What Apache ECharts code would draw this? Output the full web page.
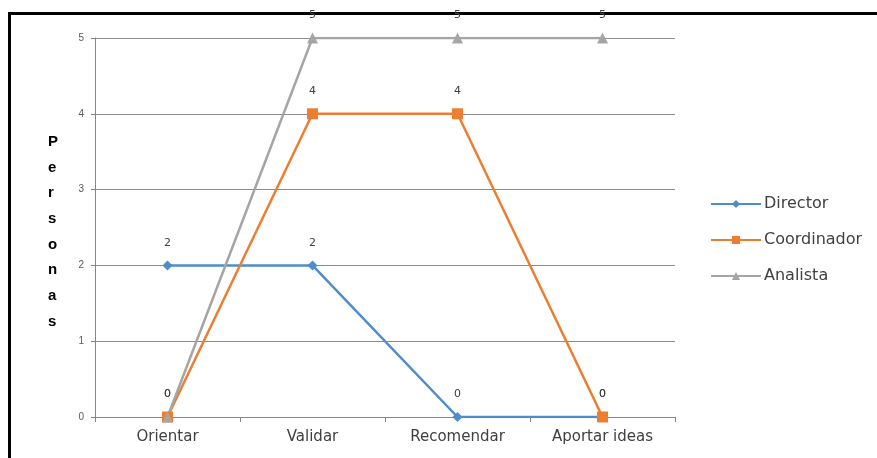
<!DOCTYPE html>
<html>
<head>
<meta charset="utf-8">
<script src="https://cdn.jsdelivr.net/npm/echarts@6/dist/echarts.min.js"></script>
<style>
html,body{margin:0;padding:0;background:#fff;}
#frame{position:absolute;left:8px;top:12px;width:880px;height:460px;border-left:3px solid #000;border-top:3px solid #000;}
#chart{position:absolute;left:0;top:0;width:877px;height:458px;}
</style>
</head>
<body>
<div id="frame"></div>
<div id="chart"></div>
<script>
const categories = ['Orientar', 'Validar', 'Recomendar', 'Aportar ideas'];
const director = [2, 2, 0, 0];
const coordinador = [0, 4, 4, 0];
const analista = [0, 5, 5, 5];
const yTicks = [0, 1, 2, 3, 4, 5];
const seriesNames = ['Director', 'Coordinador', 'Analista'];
const yAxisTitle = 'Personas';

const chart = echarts.init(document.getElementById('chart'), null, {renderer: 'canvas'});
const lbl = {show: true, position: 'top', distance: 12, fontSize: 11, color: '#404040', fontFamily: 'DejaVu Sans'};
function mk(name, data, color, symbol, size) {
  return {
    name: name, type: 'line', data: data, symbol: symbol, symbolSize: size,
    lineStyle: {color: color, width: 2.5}, itemStyle: {color: color},
    label: lbl, emphasis: {disabled: true}
  };
}
chart.setOption({
  animation: false,
  backgroundColor: 'transparent',
  grid: {left: 95, right: 202, top: 38, bottom: 41},
  legend: {
    orient: 'vertical', left: 710, top: 196, padding: 0, itemGap: 20, itemWidth: 50, itemHeight: 10,
    textStyle: {fontSize: 16, color: '#404040', fontFamily: 'DejaVu Sans', padding: [0, 0, 0, -2]},
    data: seriesNames
  },
  xAxis: {
    type: 'category', data: categories, boundaryGap: true,
    axisLine: {lineStyle: {color: '#868686', width: 1}},
    axisTick: {show: true, length: 5, lineStyle: {color: '#868686'}},
    axisLabel: {fontSize: 15, color: '#404040', margin: 13, fontFamily: 'DejaVu Sans'}
  },
  yAxis: {
    type: 'value', min: 0, max: 5, interval: 1,
    axisLine: {show: true, lineStyle: {color: '#868686'}},
    axisTick: {show: true, length: 4, lineStyle: {color: '#868686'}},
    axisLabel: {fontSize: 10, color: '#595959', margin: 11, fontFamily: 'Liberation Sans',
      formatter: v => yTicks.includes(v) ? String(v) : ''},
    splitLine: {lineStyle: {color: '#8c8c8c', width: 1}}
  },
  graphic: [{
    type: 'text', left: 48, top: 129,
    style: {text: yAxisTitle.split('').join('\n'), fontSize: 15, fontWeight: 'bold', lineHeight: 25.7,
      fill: '#000', fontFamily: 'Liberation Sans', align: 'center'}
  }],
  series: [
    mk(seriesNames[0], director, '#4f8ccb', 'diamond', 10),
    mk(seriesNames[1], coordinador, '#ed7d31', 'rect', 11),
    mk(seriesNames[2], analista, '#a5a5a5', 'triangle', 11)
  ]
});
</script>
</body>
</html>
